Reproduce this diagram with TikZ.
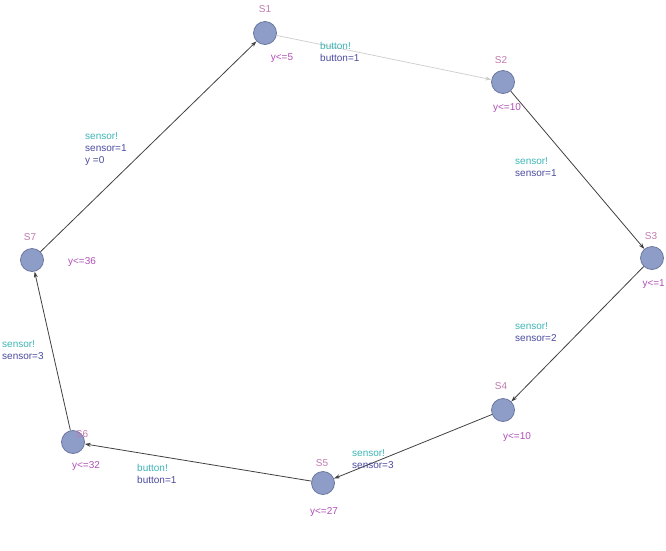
\documentclass[tikz,border=0pt]{standalone}
\usepackage{fontspec}
\setmainfont{Liberation Sans}
\usetikzlibrary{arrows.meta}
\definecolor{nodefill}{HTML}{8E9CC8}
\definecolor{nodedraw}{HTML}{6A789E}
\definecolor{namecol}{HTML}{C07AB0}
\definecolor{invcol}{HTML}{B050B8}
\definecolor{synccol}{HTML}{3DB4B4}
\definecolor{assigncol}{HTML}{4A4AA0}
\tikzset{
  state/.style={circle,fill=nodefill,draw=nodedraw,line width=0.8pt,minimum size=23pt,inner sep=0pt},
  sname/.style={text=namecol,font=\fontsize{10}{11}\selectfont,inner sep=1pt},
  inv/.style={text=invcol,font=\fontsize{10}{11}\selectfont,inner sep=1pt},
  lbl/.style={font=\fontsize{10}{12}\selectfont,align=left,anchor=north west,inner sep=0pt},
  edge/.style={draw=black!75,line width=0.8pt,-{Stealth[length=6pt,width=4pt]}},
  lightedge/.style={draw=black!20,line width=0.7pt,-{Stealth[length=6pt,width=4pt]}}
}
\begin{document}
\begin{tikzpicture}[x=1pt,y=-1pt]
\useasboundingbox (0,0) rectangle (666,550);
\node[state] (s1) at (265,33) {};
\node[state] (s2) at (503,82) {};
\node[state] (s3) at (652,258) {};
\node[state] (s4) at (503,410) {};
\node[state] (s5) at (323,483) {};
\node[state] (s6) at (73,442) {};
\node[state] (s7) at (32,260) {};
\node[sname] (n1) at (265,9) {S1};
\node[sname] (n2) at (501,60) {S2};
\node[sname] (n3) at (651,236) {S3};
\node[sname] (n4) at (501,386) {S4};
\node[sname] (n5) at (322,463) {S5};
\node[sname] (n6) at (82,434) {S6};
\node[sname] (n7) at (30,237) {S7};
\node[inv] (i1) at (282,58) {y<=5};
\node[inv] (i2) at (507,108) {y<=10};
\node[inv,anchor=east] (i3) at (666,284) {y<=1};
\node[inv] (i4) at (517,437) {y<=10};
\node[inv] (i5) at (324,512) {y<=27};
\node[inv] (i6) at (86,466) {y<=32};
\node[inv] (i7) at (82,262) {y<=36};
\path[lightedge] (s1) -- (s2);
\path[edge] (s2) -- (s3);
\path[edge] (s3) -- (s4);
\path[edge] (s4) -- (s5);
\path[edge] (s5) -- (s6);
\path[edge] (s6) -- (s7);
\path[edge] (s7) -- (s1);
\node[lbl] (l1) at (320,42) {\textcolor{synccol}{button!}\\\textcolor{assigncol}{button=1}};
\node[lbl] (l2) at (515,157) {\textcolor{synccol}{sensor!}\\\textcolor{assigncol}{sensor=1}};
\node[lbl] (l3) at (515,322) {\textcolor{synccol}{sensor!}\\\textcolor{assigncol}{sensor=2}};
\node[lbl] (l4) at (352,449) {\textcolor{synccol}{sensor!}\\\textcolor{assigncol}{sensor=3}};
\node[lbl] (l5) at (137,464) {\textcolor{synccol}{button!}\\\textcolor{assigncol}{button=1}};
\node[lbl] (l6) at (2,340) {\textcolor{synccol}{sensor!}\\\textcolor{assigncol}{sensor=3}};
\node[lbl] (l7) at (85,132) {\textcolor{synccol}{sensor!}\\\textcolor{assigncol}{sensor=1}\\\textcolor{assigncol}{y =0}};
\end{tikzpicture}
\end{document}
